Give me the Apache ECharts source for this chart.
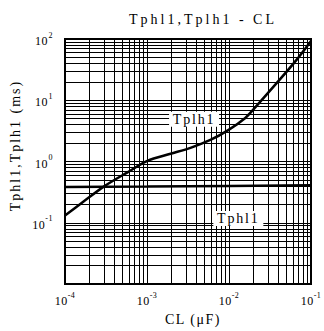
<!DOCTYPE html>
<html><head><meta charset="utf-8">
<script src="https://cdn.jsdelivr.net/npm/echarts@6/dist/echarts.min.js"></script>
<style>
html,body{margin:0;padding:0;background:#fff}
#c{width:324px;height:331px}
</style>
</head><body><div id="c"></div>
<script>
const titleText = 'Tphl1,Tplh1 - CL';
const xAxisName = 'CL (\u03bcF)';
const yAxisName = 'Tphl1,Tplh1 (ms)';
const xTickExps = [-4, -3, -2, -1];
const yTickExps = [-1, 0, 1, 2];
const tplh1CL = [1e-4, 1.7e-4, 3.0e-4, 5.78e-4, 1.01e-3, 1.94e-3, 3.39e-3, 5.93e-3, 9.9e-3, 1.58e-2, 2.0e-2, 4.2e-2, 6.7e-2, 1e-1];
const tplh1Values = [0.132, 0.225, 0.394, 0.667, 1.026, 1.34, 1.675, 2.25, 3.29, 5.15, 7.18, 22.1, 46.1, 93];
const tphl1CL = [1e-4, 1e-3, 1e-2, 1e-1];
const tphl1Values = [0.385, 0.39, 0.4, 0.41];
const curveLabels = ['Tplh1', 'Tphl1'];
const curveLabelCL = [3.75e-3, 1.3e-2];
const curveLabelValues = [4.9, 0.118];

const FONT = 'Liberation Serif';
const mantissas = [1, 2, 3, 4, 5, 6, 7, 8, 9];
const xGrid = [], yGrid = [];
for (let e = -4; e <= -2; e++) mantissas.forEach(m => xGrid.push(m * Math.pow(10, e)));
xGrid.push(1e-1);
for (let e = -2; e <= 1; e++) mantissas.forEach(m => yGrid.push(m * Math.pow(10, e)));
yGrid.push(100);
const X_MIN = 1e-4, X_MAX = 1e-1, Y_MIN = 1e-2, Y_MAX = 1e2;

function fmt(exps) {
  return function (v) {
    const e = Math.round(Math.log10(v));
    if (!exps.includes(e)) return '';
    return '{b|10}{s|' + e + '}';
  };
}
const rich = {
  b: { fontFamily: FONT, fontSize: 12, color: '#000', lineHeight: 16, verticalAlign: 'bottom' },
  s: { fontFamily: FONT, fontSize: 8, color: '#000', lineHeight: 8, verticalAlign: 'top', padding: [0, 0, 0, 1] }
};

const gridLines = xGrid.map(v => ({ coords: [[v, Y_MIN], [v, Y_MAX]] }))
  .concat(yGrid.map(v => ({ coords: [[X_MIN, v], [X_MAX, v]] })));

const chart = echarts.init(document.getElementById('c'), null, { renderer: 'svg' });
chart.setOption({
  animation: false,
  backgroundColor: '#fff',
  title: {
    text: titleText, left: 124, top: 7,
    textStyle: { fontFamily: FONT, fontSize: 14, fontWeight: 'normal', color: '#000' }
  },
  grid: { left: 64, right: 13, top: 39, bottom: 42, show: true, borderColor: '#000', borderWidth: 2 },
  xAxis: {
    type: 'log', logBase: 10, min: X_MIN, max: X_MAX,
    axisLine: { lineStyle: { color: '#000', width: 2 } },
    axisTick: { show: false },
    splitLine: { show: false },
    axisLabel: { margin: 7, formatter: fmt(xTickExps), rich: rich },
    name: xAxisName, nameLocation: 'middle', nameGap: 25,
    nameTextStyle: { fontFamily: FONT, fontSize: 14, color: '#000', padding: [0, 0, 0, 10] }
  },
  yAxis: {
    type: 'log', logBase: 10, min: Y_MIN, max: Y_MAX,
    axisLine: { lineStyle: { color: '#000', width: 2 } },
    axisTick: { show: false },
    splitLine: { show: false },
    axisLabel: { margin: 12, formatter: fmt(yTickExps), rich: rich },
    name: yAxisName, nameLocation: 'middle', nameGap: 43,
    nameTextStyle: { fontFamily: FONT, fontSize: 14, color: '#000', padding: [0, 0, 0, 32] }
  },
  series: [
    {
      name: 'grid', type: 'lines', coordinateSystem: 'cartesian2d', z: 1, silent: true,
      polyline: false, effect: { show: false },
      lineStyle: { color: '#000', width: 1, opacity: 1, type: 'solid' },
      data: gridLines
    },
    {
      name: 'Tphl1', type: 'line', z: 3, symbol: 'none',
      data: tphl1CL.map((x, i) => [x, tphl1Values[i]]),
      lineStyle: { color: '#000', width: 2.5 }
    },
    {
      name: 'Tplh1', type: 'line', z: 3, symbol: 'none', smooth: 0.3,
      data: tplh1CL.map((x, i) => [x, tplh1Values[i]]),
      lineStyle: { color: '#000', width: 2.5 }
    },
    {
      name: 'labels', type: 'scatter', z: 5, symbol: 'rect', symbolSize: [50, 15],
      itemStyle: { color: '#fff', opacity: 1 },
      emphasis: { disabled: true },
      data: curveLabels.map((t, i) => [curveLabelCL[i], curveLabelValues[i], t]),
      label: {
        show: true, position: 'inside', formatter: p => p.data[2],
        fontFamily: FONT, fontSize: 14, color: '#000', opacity: 1
      }
    }
  ]
});

function spacing() {
  document.querySelectorAll('#c svg text').forEach(t => {
    const s = t.textContent;
    let ls = '0.5px';
    if (s === titleText) ls = '3px';
    else if (s === yAxisName) ls = '2px';
    else if (s === xAxisName) ls = '1.5px';
    else if (curveLabels.includes(s)) ls = '1.8px';
    t.style.letterSpacing = ls;
  });
}
spacing();
requestAnimationFrame(spacing);
setTimeout(spacing, 50);
</script>
</body></html>
